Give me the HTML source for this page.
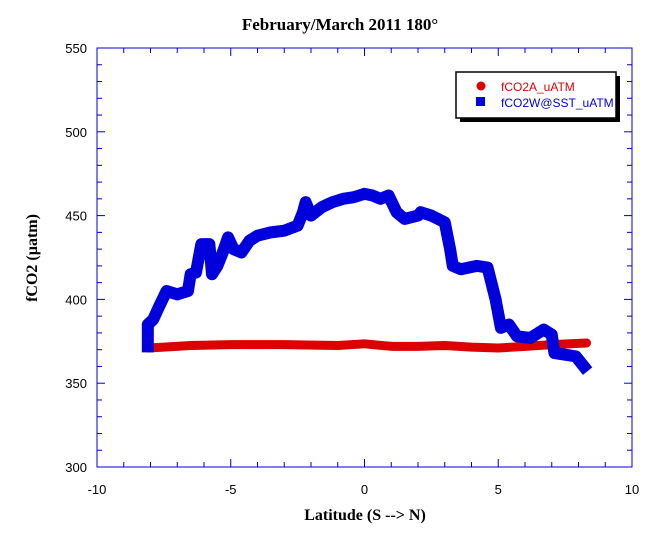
<!DOCTYPE html>
<html><head><meta charset="utf-8"><style>
body{margin:0;background:#fff;}
svg{display:block;font-family:"Liberation Sans",sans-serif;}
</style></head><body>
<svg id="chart" width="659" height="541" viewBox="0 0 659 541">
<text x="340" y="30" text-anchor="middle" font-family="Liberation Serif" font-weight="bold" font-size="17">February/March 2011 180°</text>
<text x="365" y="520" text-anchor="middle" font-family="Liberation Serif" font-weight="bold" font-size="16">Latitude (S --&gt; N)</text>
<text transform="translate(37,258) rotate(-90)" text-anchor="middle" font-family="Liberation Serif" font-weight="bold" font-size="16">fCO2 (µatm)</text>
<g id="axes"></g>
<g id="series"></g>
<g>
<rect x="460" y="76" width="160" height="46" fill="#000"/>
<rect x="456" y="72" width="160" height="46" fill="#fff" stroke="#000" stroke-width="1.5"/>
<circle cx="481" cy="86" r="4.5" fill="#dd0000"/>
<text x="501" y="91" font-size="12" fill="#dd0000">fCO2A_uATM</text>
<rect x="476" y="97" width="9" height="9" fill="#0000dd"/>
<text x="501" y="107" font-size="12" fill="#0000dd">fCO2W@SST_uATM</text>
</g>
</svg>
<script>
const xTicks=[-10,-5,0,5,10];
const yTicks=[300,350,400,450,500,550];
const waterLat=[-8.1,-8.1,-7.9,-7.7,-7.4,-7.0,-6.6,-6.5,-6.3,-6.1,-5.8,-5.7,-5.5,-5.3,-5.1,-4.9,-4.6,-4.3,-4.0,-3.5,-3.0,-2.5,-2.3,-2.2,-2.0,-1.6,-1.2,-0.8,-0.4,0.0,0.3,0.6,0.9,1.2,1.5,2.0,2.1,2.5,3.0,3.2,3.3,3.6,4.2,4.6,4.9,5.1,5.4,5.7,6.2,6.7,7.0,7.1,7.5,7.9,8.2];
const waterVal=[372,385,388,395,405,403,405,415,416,433,433,415,420,428,437,430,428,435,438,440,441,444,452,458,450,455,458,460,461,463,462,460,462,452,448,450,452,450,446,430,420,418,420,419,400,383,385,378,377,382,379,368,367,366,360];
const airLat=[-8.1,-7.5,-6.5,-5.0,-3.0,-1.0,0.0,1.0,2.0,3.0,4.0,5.0,6.0,7.0,8.3];
const airVal=[371,371.5,372.5,373,373,372.5,373.5,372,372,372.5,371.5,371,372,373,374];

const L=97,R=632,T=48,B=467;
const X=v=>L+(v+10)/20*(R-L);
const Y=v=>B-(v-300)/250*(B-T);
const NS="http://www.w3.org/2000/svg";
function mk(tag,attrs,parent){const e=document.createElementNS(NS,tag);for(const k in attrs)e.setAttribute(k,attrs[k]);parent.appendChild(e);return e;}
const ax=document.getElementById('axes');
const frame=mk('rect',{x:L,y:T,width:R-L,height:B-T,fill:'none',stroke:'#0000cc','stroke-width':1},ax);


for(let v=-10;v<=10;v+=1){const major=v%5===0;const len=major?8:5;
 const t1=mk('line',{x1:X(v),x2:X(v),y1:B,y2:B-len,stroke:'#0000cc'},ax);
 
 
 const t2=mk('line',{x1:X(v),x2:X(v),y1:T,y2:T+len,stroke:'#0000cc'},ax);
 
 }
for(let v=300;v<=550;v+=10){const major=v%50===0;const len=major?8:5;
 const t1=mk('line',{x1:L,x2:L+len,y1:Y(v),y2:Y(v),stroke:'#0000cc'},ax);
 
 
 const t2=mk('line',{x1:R,x2:R-len,y1:Y(v),y2:Y(v),stroke:'#0000cc'},ax);
 
 }
xTicks.forEach(v=>{const t=mk('text',{x:X(v),y:B+27,'text-anchor':'middle','font-size':13},ax);t.textContent=v;
 
 });
yTicks.forEach(v=>{const t=mk('text',{x:L-10,y:Y(v)+5,'text-anchor':'end','font-size':13},ax);t.textContent=v;
 
 });
const sg=document.getElementById('series');
const air=mk('polyline',{points:airLat.map((v,i)=>X(v)+','+Y(airVal[i])).join(' '),fill:'none',stroke:'#dd0000','stroke-width':9,'stroke-linejoin':'round','stroke-linecap':'round'},sg);


const water=mk('polyline',{points:waterLat.map((v,i)=>X(v)+','+Y(waterVal[i])).join(' '),fill:'none',stroke:'#0000dd','stroke-width':12,'stroke-linejoin':'round','stroke-linecap':'square'},sg);


</script>
</body></html>
